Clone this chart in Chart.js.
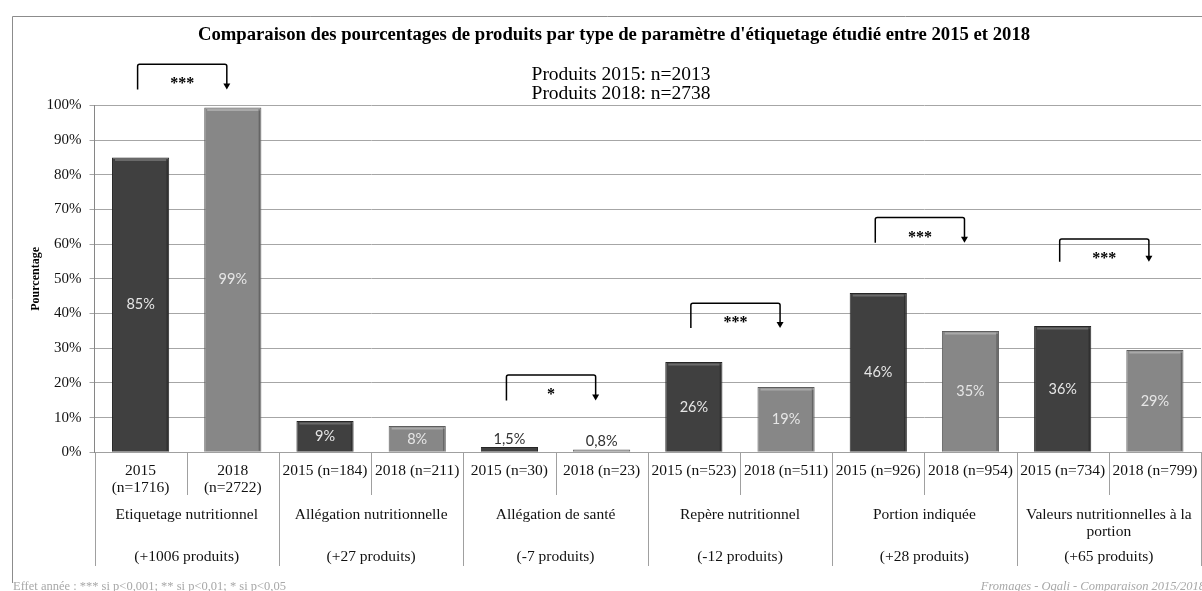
<!DOCTYPE html>
<html><head><meta charset="utf-8">
<script src="https://cdn.jsdelivr.net/npm/chart.js@4.4.1/dist/chart.umd.min.js"></script>
<style>html,body{margin:0;padding:0;background:#fff;}#wrap{width:1202px;height:591px;position:relative;}</style>
</head><body><div id="wrap"><canvas id="c"></canvas></div>
<script>
const yearLabels = [["2015","(n=1716)"],["2018","(n=2722)"],"2015 (n=184)","2018 (n=211)","2015 (n=30)","2018 (n=23)","2015 (n=523)","2018 (n=511)","2015 (n=926)","2018 (n=954)","2015 (n=734)","2018 (n=799)"];
const groupNames = [["Etiquetage nutritionnel"],["Allégation nutritionnelle"],["Allégation de santé"],["Repère nutritionnel"],["Portion indiquée"],["Valeurs nutritionnelles à la","portion"]];
const groupDeltas = ["(+1006 produits)","(+27 produits)","(-7 produits)","(-12 produits)","(+28 produits)","(+65 produits)"];
const values = [85, 99.4, 9, 7.6, 1.5, 0.8, 26, 18.8, 45.9, 35, 36.4, 29.5];
const valueLabels = ["85%","99%","9%","8%","1,5%","0,8%","26%","19%","46%","35%","36%","29%"];
const yTicks = [0,10,20,30,40,50,60,70,80,90,100];
const sigGroups = [0,2,3,4,5];
const sigStars = ["***","*","***","***","***"];
const sigTop = [111.9, 22.3, 43.0, 67.7, 61.5];
const sigBottom = [104.6, 14.9, 35.8, 60.4, 54.9];
const titleText = "Comparaison des pourcentages de produits par type de paramètre d'étiquetage étudié entre 2015 et 2018";
const subtitleLines = ["Produits 2015: n=2013","Produits 2018: n=2738"];
const footLeft = "Effet année : *** si p<0,001; ** si p<0,01; * si p<0,05";
const footRight = "Fromages - Oqali - Comparaison 2015/2018";

const SERIF = "'Liberation Serif', 'Times New Roman', serif";
const DARK = '#404040', LIGHT = '#878787';
const bg = values.map((v,i)=> i%2===0 ? DARK : LIGHT);
const bd = values.map((v,i)=> i%2===0 ? '#262626' : '#5e5e5e');
const hi = values.map((v,i)=> i%2===0 ? '#6a6a6a' : '#a9a9a9');

const decor = {
  id: 'decor',
  beforeDraw(chart){
    const ctx = chart.ctx;
    ctx.save();
    ctx.fillStyle = '#fff';
    ctx.fillRect(0,0,chart.width,chart.height);
    ctx.strokeStyle = '#8c8c8c'; ctx.lineWidth = 1;
    ctx.beginPath();
    ctx.moveTo(12.5, 583); ctx.lineTo(12.5, 16.5); ctx.lineTo(chart.width+5, 16.5);
    ctx.stroke();
    ctx.restore();
  },
  afterDatasetsDraw(chart){
    const ctx = chart.ctx;
    const meta = chart.getDatasetMeta(0);
    ctx.save();
    meta.data.forEach((bar,i)=>{
      const l = bar.x - bar.width/2, r = bar.x + bar.width/2, t = bar.y, b = bar.base;
      if (b - t > 6) {
        ctx.strokeStyle = hi[i]; ctx.lineWidth = 2;
        ctx.beginPath(); ctx.moveTo(l+3, t+2.5); ctx.lineTo(r-3, t+2.5); ctx.stroke();
        ctx.strokeStyle = 'rgba(0,0,0,0.25)'; ctx.lineWidth = 1.5;
        ctx.beginPath(); ctx.moveTo(r-2, t+3); ctx.lineTo(r-2, b-1); ctx.stroke();
      }
      ctx.font = "14.5px Lato, 'Liberation Sans', sans-serif";
      ctx.textAlign = 'center'; ctx.textBaseline = 'middle';
      if (values[i] >= 5) {
        ctx.fillStyle = '#e6e6e6';
        ctx.fillText(valueLabels[i], bar.x, (t+b)/2);
      } else {
        ctx.fillStyle = '#303030';
        ctx.fillText(valueLabels[i], bar.x, t - 8);
      }
    });
    ctx.restore();
  },
  afterDraw(chart){
    const ctx = chart.ctx;
    const xs = chart.scales.x, ys = chart.scales.y;
    const ca = chart.chartArea;
    const n = yearLabels.length;
    const cw = (ca.right - ca.left)/n;
    ctx.save();
    ctx.strokeStyle = '#a0a0a0'; ctx.lineWidth = 1;
    for (let k=0;k<=n;k++){
      const x = Math.round(ca.left + k*cw) + 0.5;
      const yEnd = (k%2===0) ? 566 : 495;
      ctx.beginPath(); ctx.moveTo(x, ca.bottom); ctx.lineTo(x, yEnd); ctx.stroke();
    }
    ctx.fillStyle = '#111';
    ctx.font = "15.5px " + SERIF;
    ctx.textAlign = 'center'; ctx.textBaseline = 'middle';
    groupNames.forEach((lines,g)=>{
      const cx = (xs.getPixelForValue(2*g) + xs.getPixelForValue(2*g+1))/2;
      lines.forEach((ln,j)=> ctx.fillText(ln, cx, 514.5 + j*17));
      ctx.fillText(groupDeltas[g], cx, 557);
    });
    ctx.font = "19.5px " + SERIF; ctx.fillStyle = '#000';
    subtitleLines.forEach((s,j)=> ctx.fillText(s, 621, 75 + j*19));
    ctx.strokeStyle = '#000'; ctx.fillStyle = '#000'; ctx.lineWidth = 1.5;
    sigGroups.forEach((g,j)=>{
      const x1 = xs.getPixelForValue(2*g) - 3;
      const x2 = xs.getPixelForValue(2*g+1) - 6;
      const yt = ys.getPixelForValue(sigTop[j]);
      const yb = ys.getPixelForValue(sigBottom[j]);
      ctx.beginPath();
      ctx.moveTo(x1, yb); ctx.lineTo(x1, yt+2);
      ctx.quadraticCurveTo(x1, yt, x1+2, yt);
      ctx.lineTo(x2-2, yt); ctx.quadraticCurveTo(x2, yt, x2, yt+2);
      ctx.lineTo(x2, yb-5);
      ctx.stroke();
      ctx.beginPath();
      ctx.moveTo(x2-3.5, yb-6); ctx.lineTo(x2+3.5, yb-6); ctx.lineTo(x2, yb); ctx.closePath(); ctx.fill();
      ctx.font = "bold 16px " + SERIF;
      ctx.fillText(sigStars[j], (x1+x2)/2, yt + 20);
    });
    ctx.fillStyle = '#a8a8a8';
    ctx.font = "12.5px " + SERIF;
    ctx.textAlign = 'left';
    ctx.fillText(footLeft, 13, 587);
    ctx.font = "italic 12.5px " + SERIF;
    ctx.textAlign = 'right';
    ctx.fillText(footRight, 1205, 587);
    ctx.restore();
  }
};

new Chart(document.getElementById('c'), {
  type: 'bar',
  data: {
    labels: yearLabels,
    datasets: [{
      data: values,
      backgroundColor: bg,
      borderColor: bd,
      borderWidth: 1,
      categoryPercentage: 1,
      barPercentage: 0.62
    }]
  },
  options: {
    responsive: true,
    maintainAspectRatio: false,
    animation: false,
    devicePixelRatio: 1,
    layout: { padding: { left: 27, right: 1, top: 0, bottom: 25 } },
    plugins: {
      legend: { display: false },
      tooltip: { enabled: false },
      title: {
        display: true,
        text: titleText,
        color: '#000',
        font: { family: SERIF, size: 18.7, weight: 'bold', lineHeight: 1.2 },
        padding: { top: 24, bottom: 59 }
      }
    },
    scales: {
      x: {
        grid: { display: false, tickLength: 0, drawTicks: false },
        border: { display: true, color: '#a0a0a0' },
        ticks: {
          autoSkip: false, maxRotation: 0, minRotation: 0, padding: 10,
          color: '#111',
          font: { family: SERIF, size: 15.5, lineHeight: 1.12 }
        },
        afterFit(scale){ scale.height = 113.7; scale.paddingRight = 0; scale.paddingLeft = 0; }
      },
      y: {
        min: 0, max: 100,
        afterBuildTicks(scale){ scale.ticks = yTicks.map(v=>({value:v})); },
        grid: { color: '#a6a6a6', tickLength: 5, lineWidth: 1 },
        border: { display: true, color: '#868686' },
        ticks: {
          padding: 8, color: '#111',
          font: { family: SERIF, size: 15 },
          callback: v => v + '%'
        },
        title: {
          display: true, text: 'Pourcentage', color: '#000',
          font: { family: SERIF, size: 12, weight: 'bold', lineHeight: 1.2 },
          padding: { top: 2, bottom: 0 }
        },
        afterFit(scale){ scale.width = 67.5; }
      }
    }
  },
  plugins: [decor]
});
</script></body></html>
